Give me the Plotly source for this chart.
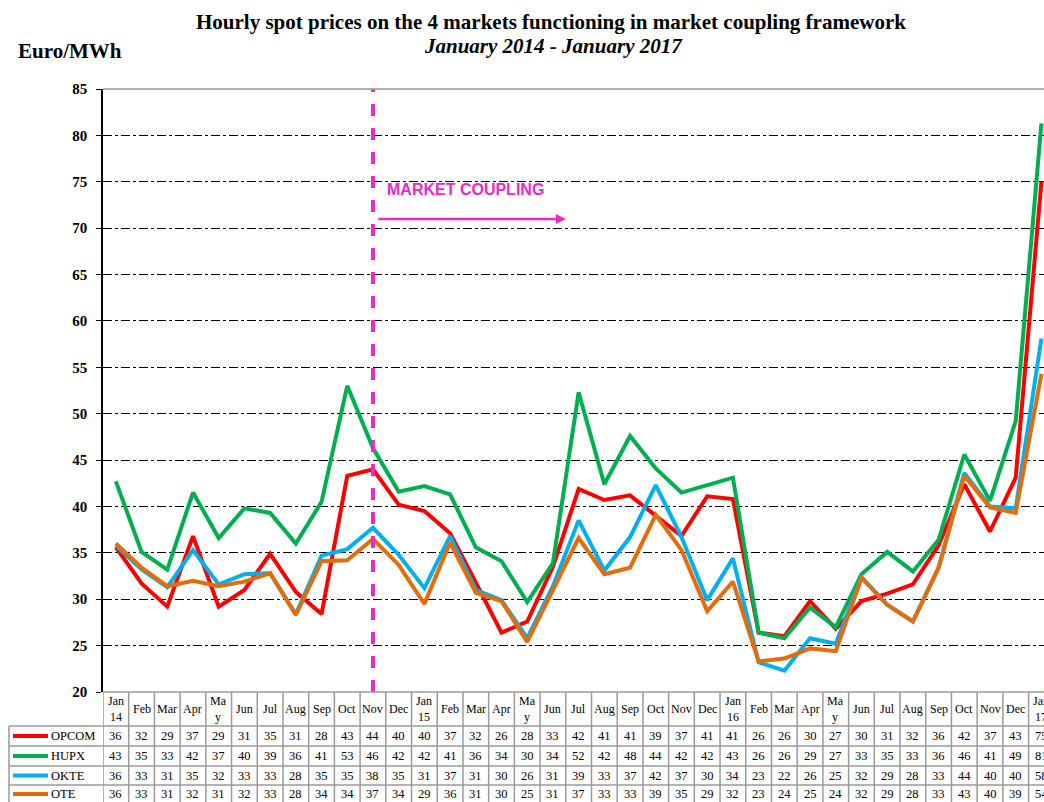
import plotly.graph_objects as go

# month labels (table header) and per-market monthly averages
months = ["Jan<br>14", "Feb", "Mar", "Apr", "Ma<br>y", "Jun", "Jul", "Aug", "Sep", "Oct", "Nov", "Dec",
          "Jan<br>15", "Feb", "Mar", "Apr", "Ma<br>y", "Jun", "Jul", "Aug", "Sep", "Oct", "Nov", "Dec",
          "Jan<br>16", "Feb", "Mar", "Apr", "Ma<br>y", "Jun", "Jul", "Aug", "Sep", "Oct", "Nov", "Dec",
          "Jan<br>17"]

opcom = [35.6, 31.7, 29.2, 36.8, 29.2, 31.0, 34.9, 30.8, 28.4, 43.3, 44.0, 40.2,
         39.5, 37.1, 31.8, 26.4, 27.6, 33.5, 41.9, 40.7, 41.2, 39.0, 36.8, 41.1,
         40.8, 26.4, 26.0, 29.8, 26.8, 29.8, 30.6, 31.6, 35.8, 42.4, 37.3, 43.1, 75.0]
hupx = [42.7, 35.1, 33.2, 41.5, 36.6, 39.8, 39.3, 36.0, 40.5, 53.0, 46.3, 41.6,
        42.2, 41.3, 35.6, 34.1, 29.7, 33.9, 52.3, 42.4, 47.6, 44.1, 41.5, 42.3,
        43.1, 26.4, 25.8, 29.1, 27.0, 32.7, 35.1, 33.0, 36.4, 45.6, 40.6, 49.2, 81.3]
okte = [35.8, 33.2, 31.3, 35.3, 31.6, 32.7, 32.8, 28.4, 34.7, 35.4, 37.7, 34.8,
        31.2, 36.8, 31.0, 29.9, 25.8, 31.4, 38.5, 33.1, 36.7, 42.3, 36.7, 29.9,
        34.4, 23.2, 22.3, 25.8, 25.2, 32.4, 29.4, 27.6, 33.4, 43.6, 40.0, 39.8, 58.1]
ote = [36.0, 33.4, 31.4, 32.0, 31.4, 31.9, 32.8, 28.3, 34.1, 34.2, 36.5, 33.7,
       29.5, 36.1, 30.7, 29.8, 25.4, 30.9, 36.6, 32.7, 33.4, 39.1, 35.3, 28.7,
       31.9, 23.3, 23.6, 24.7, 24.4, 32.3, 29.4, 27.6, 33.4, 43.3, 39.9, 39.3, 54.3]

# rounded values printed in the data table
opcom_tbl = [36, 32, 29, 37, 29, 31, 35, 31, 28, 43, 44, 40, 40, 37, 32, 26, 28, 33, 42, 41, 41, 39, 37, 41,
             41, 26, 26, 30, 27, 30, 31, 32, 36, 42, 37, 43, 75]
hupx_tbl = [43, 35, 33, 42, 37, 40, 39, 36, 41, 53, 46, 42, 42, 41, 36, 34, 30, 34, 52, 42, 48, 44, 42, 42,
            43, 26, 26, 29, 27, 33, 35, 33, 36, 46, 41, 49, 81]
okte_tbl = [36, 33, 31, 35, 32, 33, 33, 28, 35, 35, 38, 35, 31, 37, 31, 30, 26, 31, 39, 33, 37, 42, 37, 30,
            34, 23, 22, 26, 25, 32, 29, 28, 33, 44, 40, 40, 58]
ote_tbl = [36, 33, 31, 32, 31, 32, 33, 28, 34, 34, 37, 34, 29, 36, 31, 30, 25, 31, 37, 33, 33, 39, 35, 29,
           32, 23, 24, 25, 24, 32, 29, 28, 33, 43, 40, 39, 54]

markets = ["OPCOM", "HUPX", "OKTE", "OTE"]
colors = ["#ff0000", "#00b050", "#00b0f0", "#e46c0a"]
series = [opcom, hupx, okte, ote]
tables = [opcom_tbl, hupx_tbl, okte_tbl, ote_tbl]
coupling_idx = 10  # Nov 2014
magenta = "#e92ac9"

W, H = 1044, 802
def px(x): return x / W
def py(y): return 1 - y / H

serif = "Liberation Serif"
idx = list(range(len(months)))

fig = go.Figure()
for name, col, vals in zip(markets, colors, series):
    fig.add_trace(go.Scatter(x=idx, y=vals, mode="lines", name=name,
                             line=dict(color=col, width=4), showlegend=False))

shapes = []
annotations = []

# market coupling marker
shapes.append(dict(type="line", xref="x", yref="y", x0=coupling_idx, x1=coupling_idx, y0=20, y1=85,
                   line=dict(color=magenta, width=4, dash="dash")))
annotations.append(dict(x=coupling_idx + 7.5, y=71, xref="x", yref="y", ax=coupling_idx + 0.15, ay=71,
                        axref="x", ayref="y", text="", showarrow=True, arrowhead=2, arrowsize=0.8,
                        arrowwidth=2.5, arrowcolor=magenta))
annotations.append(dict(x=coupling_idx + 0.45, y=74.2, xref="x", yref="y", text="<b>MARKET COUPLING</b>",
                        showarrow=False, xanchor="left", yanchor="middle",
                        font=dict(family="Liberation Sans", size=16, color=magenta)))

# plot top border
shapes.append(dict(type="line", xref="paper", yref="paper", x0=px(103), x1=1, y0=py(89), y1=py(89),
                   line=dict(color="#999999", width=1.5)))

# data table
grid = "#9a9a9a"
row_y = [692, 726, 746, 766, 785, 803]
for k, y in enumerate(row_y):
    x0 = px(103) if k == 0 else px(9)
    shapes.append(dict(type="line", xref="paper", yref="paper", x0=x0, x1=1, y0=py(y), y1=py(y),
                       line=dict(color=grid, width=1.5)))
for k in range(len(months) + 1):
    shapes.append(dict(type="line", xref="x", yref="paper", x0=k - 0.5, x1=k - 0.5, y0=py(692), y1=0,
                       line=dict(color=grid, width=1.5)))
shapes.append(dict(type="line", xref="paper", yref="paper", x0=px(9), x1=px(9), y0=py(726), y1=0,
                   line=dict(color=grid, width=1.5)))

for i, m in enumerate(months):
    annotations.append(dict(x=i, y=py(709), xref="x", yref="paper", text=m, showarrow=False,
                            font=dict(family=serif, size=12, color="black"), xanchor="center", yanchor="middle"))
for r, (name, col, tbl) in enumerate(zip(markets, colors, tables)):
    yc = py((row_y[r + 1] + row_y[r + 2]) / 2)
    shapes.append(dict(type="line", xref="paper", yref="paper", x0=px(13), x1=px(48), y0=yc, y1=yc,
                       line=dict(color=col, width=4)))
    annotations.append(dict(x=px(49), y=yc, xref="paper", yref="paper", text=name, showarrow=False,
                            xanchor="left", yanchor="middle", font=dict(family=serif, size=12.5, color="black")))
    for i, v in enumerate(tbl):
        annotations.append(dict(x=i, y=yc, xref="x", yref="paper", text=str(v), showarrow=False,
                                xanchor="center", yanchor="middle", font=dict(family=serif, size=12.5, color="black")))

# titles
annotations.append(dict(x=px(551), y=py(22), xref="paper", yref="paper", showarrow=False,
                        xanchor="center", yanchor="middle",
                        text="<b>Hourly spot prices on the 4 markets functioning in market coupling framework</b>",
                        font=dict(family=serif, size=21, color="black")))
annotations.append(dict(x=px(553), y=py(46), xref="paper", yref="paper", showarrow=False,
                        xanchor="center", yanchor="middle",
                        text="<b><i>January 2014 - January 2017</i></b>",
                        font=dict(family=serif, size=21, color="black")))
annotations.append(dict(x=px(16), y=py(51), xref="paper", yref="paper", showarrow=False,
                        xanchor="left", yanchor="middle",
                        text="<b>Euro/MWh</b>", font=dict(family=serif, size=21, color="black")))

fig.update_layout(
    width=W, height=H,
    margin=dict(l=0, r=0, t=0, b=0, autoexpand=False),
    paper_bgcolor="white", plot_bgcolor="white",
    xaxis=dict(domain=[px(103), 1], range=[-0.5, 36.1], showticklabels=False, showgrid=False,
               zeroline=False, showline=False, fixedrange=True, automargin=False),
    yaxis=dict(domain=[py(692), py(89)], range=[20, 85], dtick=5, tick0=20, automargin=False,
               showgrid=True, gridcolor="black", gridwidth=1, griddash="dashdot",
               showline=True, linecolor="black", linewidth=1.5, ticks="outside", ticklen=5,
               tickcolor="black", zeroline=False, ticklabelstandoff=6,
               tickfont=dict(family=serif, size=15, color="black"), tickprefix="<b>", ticksuffix="</b>"),
    shapes=shapes,
    annotations=annotations,
)

# drop the page's default body margin so the figure fills the window
fig.write_html("out.html", config={"displayModeBar": False},
               post_script="document.body.style.margin='0';document.body.style.overflow='hidden';")
